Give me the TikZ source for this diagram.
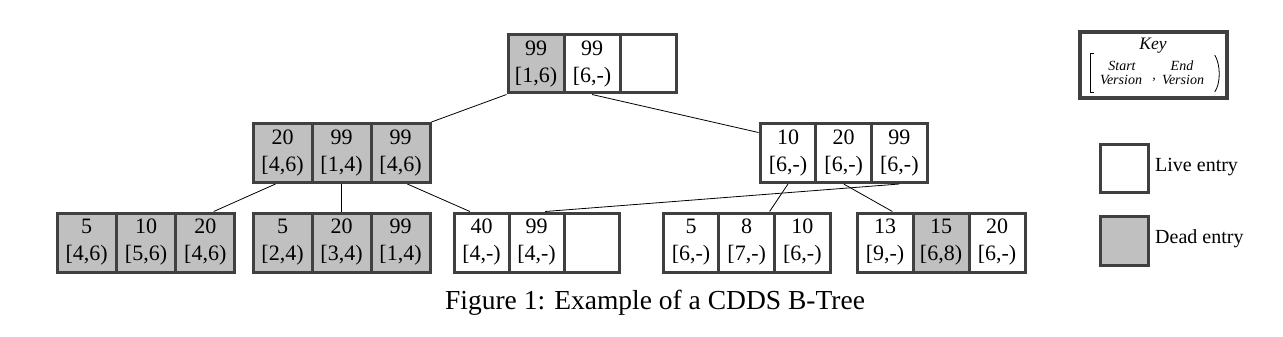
\documentclass[tikz,border=0pt]{standalone}
\usepackage{fontspec}
\setmainfont{Liberation Serif}
\usetikzlibrary{calc}
\definecolor{bord}{HTML}{404040}
\definecolor{dead}{HTML}{C0C0C0}
\tikzset{
  cell/.style={draw=bord, line width=3pt, minimum height=59pt, inner sep=0pt,
    align=center, font=\fontsize{22}{27}\selectfont, fill=white},
  deadcell/.style={cell, fill=dead},
  conn/.style={draw=black, line width=0.8pt},
  keytxt/.style={font=\fontsize{14}{15}\selectfont\itshape, inner sep=0pt},
}
\begin{document}
\begin{tikzpicture}[x=1pt,y=-1pt]
\useasboundingbox (0,0) rectangle (1283,337);
% root
\node[deadcell, minimum width=56pt, minimum height=58pt] (r1) at (536,64) {99\\{[}1,6)};
\node[cell, minimum width=56pt, minimum height=58pt] (r2) at (592,64) {99\\{[}6,-)};
\node[cell, minimum width=56pt, minimum height=58pt] (r3) at (648,64) {};
% level 2 left
\node[deadcell, minimum width=59pt] (b1) at (282.5,153) {20\\{[}4,6)};
\node[deadcell, minimum width=59pt] (b2) at (341.5,153) {99\\{[}1,4)};
\node[deadcell, minimum width=59pt] (b3) at (400.5,153) {99\\{[}4,6)};
% level 2 right
\node[cell, minimum width=55.7pt] (c1) at (788,153) {10\\{[}6,-)};
\node[cell, minimum width=55.7pt] (c2) at (843.7,153) {20\\{[}6,-)};
\node[cell, minimum width=55.7pt] (c3) at (899.4,153) {99\\{[}6,-)};
% leaf 1
\node[deadcell, minimum width=59.3pt] (a1) at (86.7,242.5) {5\\{[}4,6)};
\node[deadcell, minimum width=59.3pt] (a2) at (146,242.5) {10\\{[}5,6)};
\node[deadcell, minimum width=59.3pt] (a3) at (205.3,242.5) {20\\{[}4,6)};
% leaf 2
\node[deadcell, minimum width=59pt] (d1) at (282.5,242.5) {5\\{[}2,4)};
\node[deadcell, minimum width=59pt] (d2) at (341.5,242.5) {20\\{[}3,4)};
\node[deadcell, minimum width=59pt] (d3) at (400.5,242.5) {99\\{[}1,4)};
% leaf 3
\node[cell, minimum width=55pt] (e1) at (481.5,242.5) {40\\{[}4,-)};
\node[cell, minimum width=55pt] (e2) at (536.5,242.5) {99\\{[}4,-)};
\node[cell, minimum width=55pt] (e3) at (591.5,242.5) {};
% leaf 4
\node[cell, minimum width=55.7pt] (f1) at (691,242.5) {5\\{[}6,-)};
\node[cell, minimum width=55.7pt] (f2) at (746.7,242.5) {8\\{[}7,-)};
\node[cell, minimum width=55.7pt] (f3) at (802.4,242.5) {10\\{[}6,-)};
% leaf 5
\node[cell, minimum width=56pt] (g1) at (885,242.5) {13\\{[}9,-)};
\node[deadcell, minimum width=56pt] (g2) at (941,242.5) {15\\{[}6,8)};
\node[cell, minimum width=56pt] (g3) at (997,242.5) {20\\{[}6,-)};
% connectors
\draw[conn] (r1.south west) -- (b3.north east);
\draw[conn] (r2.south) -- ($(c1.north west)!0.17!(c1.south west)$);
\draw[conn] ($(b1.south)+(-7,0)$) -- ($(a3.north)!0.27!(a3.north east)$);
\draw[conn] (b2.south) -- (d2.north);
\draw[conn] ($(b3.south)!0.22!(b3.south east)$) -- ($(e1.north)!0.4!(e1.north west)$);
\draw[conn] (c1.south) -- ($(f2.north)!0.78!(f2.north east)$);
\draw[conn] (c2.south) -- ($(g1.north)!0.25!(g1.north east)$);
\draw[conn] (c3.south) -- ($(e2.north)!0.3!(e2.north east)$);
% key
\node[draw=bord, line width=3.5pt, minimum width=147pt, minimum height=66pt, inner sep=0pt] (key) at (1153.5,65) {};
\node[keytxt, font=\fontsize{17.5}{18}\selectfont\itshape] (keyt) at (1153,46) {Key};
\node[keytxt] (ks) at (1122,66) {Start};
\node[keytxt] (kv1) at (1121,80) {Version};
\node[keytxt] (ke) at (1182,66) {End};
\node[keytxt] (kv2) at (1183,80) {Version};
\node[keytxt] (kc) at (1154,80) {,};
\draw[line width=0.8pt] ($(key.west)+(16,-12)$) -- ++(-4,0) -- ++(0,39) -- ++(4,0);
\draw[line width=0.8pt] ($(key.east)+(-14,-10)$) .. controls ($(key.east)+(-8,0)$) and ($(key.east)+(-8,18)$) .. ($(key.east)+(-14,27)$);
% legend
\node[cell, minimum width=48pt, minimum height=48pt] (live) at (1124,168) {};
\node[deadcell, minimum width=48pt, minimum height=49pt] (deadk) at (1124,240.5) {};
\node[anchor=west, font=\fontsize{20}{24}\selectfont, inner sep=0pt] (livet) at (1155,167) {Live entry};
\node[anchor=west, font=\fontsize{20}{24}\selectfont, inner sep=0pt] (deadt) at (1155,239) {Dead entry};
% caption
\node[font=\fontsize{27.5}{30}\selectfont, inner sep=0pt] (cap) at (655,303) {Figure 1: Example of a CDDS B-Tree};
\end{tikzpicture}
\end{document}
